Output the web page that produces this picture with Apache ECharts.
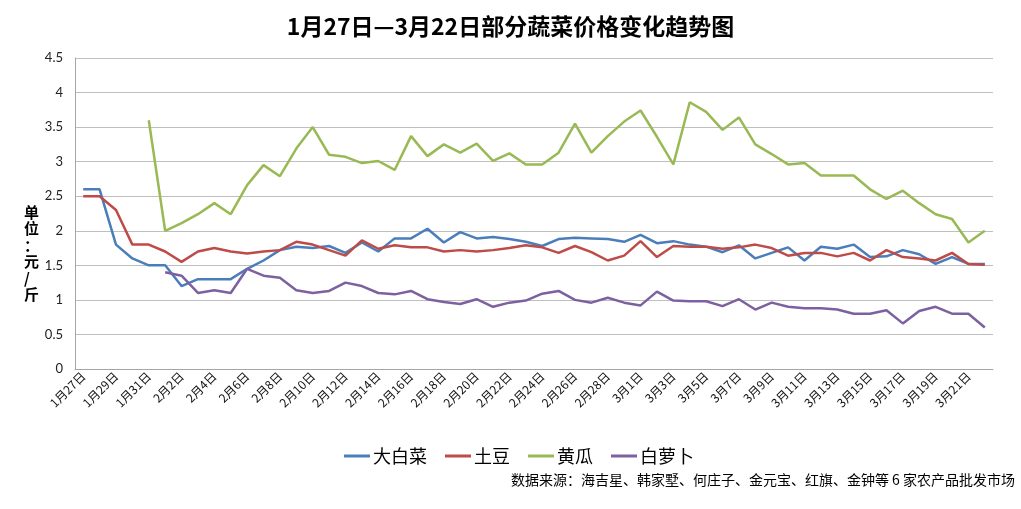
<!DOCTYPE html>
<html>
<head>
<meta charset="utf-8">
<script src="https://cdn.jsdelivr.net/npm/echarts@6/dist/echarts.min.js"></script>
<style>
  html, body { margin: 0; padding: 0; background: #fff; }
  #chart { width: 1021px; height: 509px; }
</style>
</head>
<body>
<div id="chart"></div>
<script>
// 日期 1月27日 - 3月22日 (2月有29天)
var dates = ['1月27日','1月28日','1月29日','1月30日','1月31日',
  '2月1日','2月2日','2月3日','2月4日','2月5日','2月6日','2月7日','2月8日','2月9日','2月10日',
  '2月11日','2月12日','2月13日','2月14日','2月15日','2月16日','2月17日','2月18日','2月19日','2月20日',
  '2月21日','2月22日','2月23日','2月24日','2月25日','2月26日','2月27日','2月28日','2月29日',
  '3月1日','3月2日','3月3日','3月4日','3月5日','3月6日','3月7日','3月8日','3月9日','3月10日',
  '3月11日','3月12日','3月13日','3月14日','3月15日','3月16日','3月17日','3月18日','3月19日','3月20日',
  '3月21日','3月22日'];

var dabaicai = [2.6,2.6,1.8,1.6,1.5,1.5,1.2,1.3,1.3,1.3,1.45,1.57,1.72,1.77,1.75,1.78,1.68,1.83,1.7,1.89,
  1.89,2.03,1.83,1.98,1.89,1.91,1.88,1.84,1.78,1.88,1.9,1.89,1.88,1.84,1.94,1.82,1.85,1.8,1.77,1.69,
  1.79,1.6,1.68,1.76,1.57,1.77,1.74,1.8,1.62,1.63,1.72,1.66,1.52,1.62,1.52,1.52];

var tudou = [2.5,2.5,2.3,1.8,1.8,1.7,1.55,1.7,1.75,1.7,1.67,1.7,1.72,1.84,1.8,1.72,1.64,1.86,1.74,1.79,
  1.76,1.76,1.7,1.72,1.7,1.72,1.75,1.79,1.76,1.68,1.78,1.69,1.57,1.64,1.85,1.62,1.78,1.77,1.77,1.74,
  1.76,1.8,1.75,1.64,1.68,1.68,1.63,1.68,1.57,1.72,1.62,1.6,1.57,1.68,1.52,1.51];

var huanggua = [null,null,null,null,3.6,2.0,2.11,2.24,2.4,2.24,2.66,2.95,2.79,3.19,3.5,3.1,3.07,2.98,3.01,2.88,
  3.37,3.08,3.25,3.13,3.26,3.01,3.12,2.96,2.96,3.13,3.55,3.13,3.37,3.58,3.74,3.36,2.96,3.86,3.72,3.46,
  3.64,3.25,3.11,2.96,2.98,2.8,2.8,2.8,2.6,2.46,2.58,2.4,2.24,2.17,1.83,2.0];

var bailuobo = [null,null,null,null,null,1.4,1.35,1.1,1.14,1.1,1.45,1.35,1.32,1.14,1.1,1.13,1.25,1.2,1.1,1.08,
  1.13,1.01,0.97,0.94,1.01,0.9,0.96,0.99,1.09,1.13,1.0,0.96,1.03,0.96,0.92,1.12,0.99,0.98,0.98,0.91,
  1.01,0.86,0.96,0.9,0.88,0.88,0.86,0.8,0.8,0.85,0.66,0.84,0.9,0.8,0.8,0.6];

var seriesNames = ['大白菜','土豆','黄瓜','白萝卜'];
var seriesColors = ['#4A7EBB','#BE4B48','#98B954','#7D60A0'];

var cjk = '"Noto Sans CJK SC", "Noto Sans", sans-serif';

var myChart = echarts.init(document.getElementById('chart'));

function lineSeries(idx, data) {
  return {
    name: seriesNames[idx],
    type: 'line',
    data: data,
    symbol: 'none',
    lineStyle: { color: seriesColors[idx], width: 2.5 },
    itemStyle: { color: seriesColors[idx] }
  };
}

var option = {
  animation: false,
  title: {
    text: '1月27日—3月22日部分蔬菜价格变化趋势图',
    left: 'center',
    top: 10,
    textStyle: { fontFamily: cjk, fontSize: 23, fontWeight: 'bold', color: '#000' }
  },
  legend: {
    data: seriesNames,
    left: 339,
    top: 442,
    icon: 'rect',
    itemWidth: 26,
    itemHeight: 3,
    itemGap: 18,
    textStyle: { fontFamily: cjk, fontSize: 18, color: '#000', padding: [0, 0, 0, -2] }
  },
  grid: { left: 75, right: 28, top: 58, bottom: 140 },
  xAxis: {
    type: 'category',
    data: dates,
    boundaryGap: true,
    axisLine: { lineStyle: { color: '#A6A6A6', width: 1 } },
    axisTick: { interval: 1, length: 5, lineStyle: { color: '#A6A6A6' } },
    axisLabel: {
      interval: 1,
      rotate: 45,
      fontFamily: cjk,
      fontSize: 12,
      color: '#111',
      margin: 5
    }
  },
  yAxis: {
    type: 'value',
    min: 0,
    max: 4.5,
    interval: 0.5,
    axisLine: { show: true, lineStyle: { color: '#A6A6A6' } },
    axisTick: { show: false },
    splitLine: { lineStyle: { color: '#BFBFBF', width: 1 } },
    axisLabel: { fontFamily: 'Lato, "Noto Sans", sans-serif', fontSize: 13, color: '#222', margin: 12 }
  },
  graphic: [
    {
      type: 'text',
      left: 24,
      top: 204,
      style: {
        text: '单\n位\n：\n元\n/\n斤',
        font: 'bold 15px "Noto Sans CJK SC"',
        lineHeight: 16.5,
        align: 'center',
        fill: '#000'
      }
    },
    {
      type: 'text',
      right: 6,
      top: 473,
      style: {
        text: '数据来源：海吉星、韩家墅、何庄子、金元宝、红旗、金钟等 6 家农产品批发市场',
        font: '14px "Noto Sans CJK SC"',
        fill: '#000'
      }
    }
  ],
  series: [
    lineSeries(0, dabaicai),
    lineSeries(1, tudou),
    lineSeries(2, huanggua),
    lineSeries(3, bailuobo)
  ]
};

myChart.setOption(option);
</script>
</body>
</html>
